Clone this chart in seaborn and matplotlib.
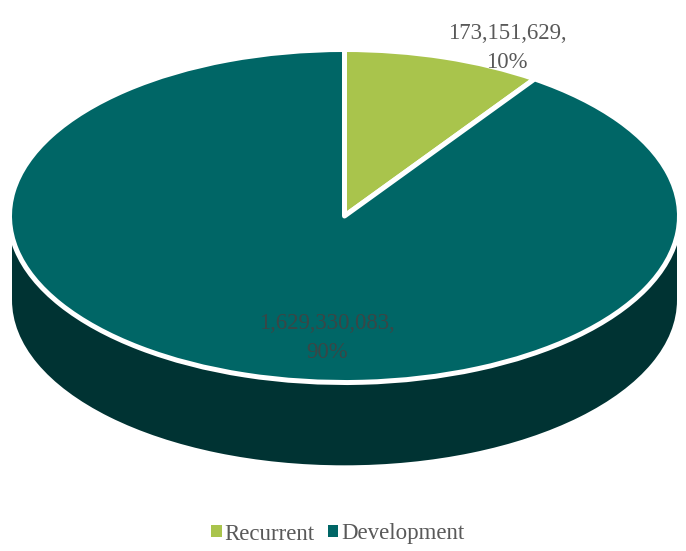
import matplotlib
matplotlib.use("Agg")
import matplotlib.pyplot as plt
import seaborn as sns

categories = ["Recurrent", "Development"]
amounts = [173151629, 1629330083]
shares = [10, 90]
palette = sns.color_palette(["#A9C44C", "#006666"])
side_colour = "#003333"

sns.set_theme(style="white")
plt.rcParams["font.family"] = ["Liberation Serif", "DejaVu Serif"]

W, H = 686, 551
CX, CY, RX, RY = 344.5, 216.0, 335.0, 166.5   # pie disc in pixels
DEPTH = 0.505                                  # extrusion, in disc radii

fig = plt.figure(figsize=(W / 100, H / 100), dpi=100)
ax = fig.add_axes([0, 0, 1, 1])

# extruded side: a lower disc joined to the top disc by a band
ax.pie([1], colors=[side_colour], radius=0.9925, center=(0, -DEPTH),
       wedgeprops={"linewidth": 0})
ax.fill_between([-0.9925, 0.9925], -DEPTH, 0, color=side_colour, linewidth=0)

# top face
wedges, _ = ax.pie(amounts, colors=palette, startangle=90, counterclock=False,
                   wedgeprops={"edgecolor": "white", "linewidth": 3.6,
                               "joinstyle": "round"})

ax.set_aspect("auto")
ax.set_xlim(-CX / RX, (W - CX) / RX)
ax.set_ylim((CY - H) / RY, CY / RY)
ax.axis("off")


def to_data(px, py):
    return (px - CX) / RX, (CY - py) / RY


label_spots = [(507, 48), (327, 338)]
label_colours = ["#595959", "#3A4646"]
for amount, share, spot, colour in zip(amounts, shares, label_spots, label_colours):
    x, y = to_data(*spot)
    ax.text(x, y, f"{amount:,},\n{share}%", ha="center", va="center",
            fontsize=16.4, color=colour, linespacing=1.55)

fig.legend(wedges, categories, loc="center", bbox_to_anchor=(338 / W, 1 - 534 / H),
           ncol=2, frameon=False, fontsize=16.5, labelcolor="#595959",
           handlelength=0.44, handleheight=0.44, handletextpad=0.14,
           columnspacing=0.57, borderpad=0)
for handle in fig.legends[0].get_patches():
    handle.set_edgecolor("none")
    handle.set_linewidth(0)

fig.savefig("out.png", dpi=100, facecolor="white")
